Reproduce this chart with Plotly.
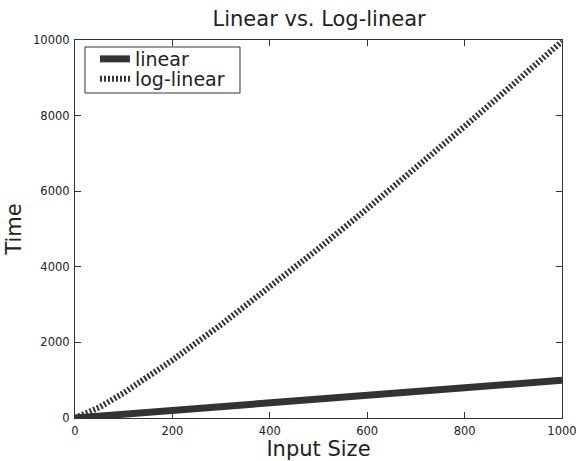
import plotly.graph_objects as go

input_size = [0, 50, 100, 200, 300, 400, 500, 600, 700, 800, 900, 1000]
linear_time = [0, 50, 100, 200, 300, 400, 500, 600, 700, 800, 900, 1000]
loglinear_time = [0, 282, 664, 1529, 2469, 3458, 4483, 5537, 6617, 7715, 8832, 9966]
x_ticks = [0, 200, 400, 600, 800, 1000]
x_tick_labels = ["0", "200", "400", "600", "800", "1000"]
y_ticks = [0, 2000, 4000, 6000, 8000, 10000]
y_tick_labels = ["0", "2000", "4000", "6000", "8000", "10000"]

FONT = "DejaVu Sans"
INK = "#222222"
LINE = "#333333"

fig = go.Figure()
fig.add_trace(go.Scatter(x=input_size, y=linear_time, mode="lines", name="linear",
                         line=dict(color=LINE, width=7), legend="legend"))
fig.add_trace(go.Scatter(x=input_size, y=loglinear_time, mode="lines", name="log-linear",
                         line=dict(color=LINE, width=6, dash="2px,2px"), legend="legend2"))

axis_common = dict(showgrid=False, zeroline=False, showline=True, linecolor=LINE,
                   linewidth=1.2, mirror="ticks", ticks="inside", ticklen=6,
                   tickcolor=LINE, tickfont=dict(family=FONT, size=11.5, color=INK),
                   automargin=False, ticklabeloverflow="allow")

legend_common = dict(xanchor="left", yanchor="middle", bgcolor="rgba(0,0,0,0)",
                     borderwidth=0, font=dict(family=FONT, size=19, color=INK),
                     itemwidth=30)

fig.update_layout(
    width=576, height=461,
    paper_bgcolor="white", plot_bgcolor="white",
    margin=dict(l=75, r=14, t=40, b=43),
    title=dict(text="Linear vs. Log-linear", x=0.554, xanchor="center", y=0.9588, yanchor="middle",
               font=dict(family=FONT, size=21, color=INK)),
    xaxis=dict(range=[0, 1000.001], tickvals=x_ticks, ticktext=x_tick_labels,
               ticklabelstandoff=2,
               title=dict(text="Input Size", font=dict(family=FONT, size=21, color=INK), standoff=2),
               **axis_common),
    yaxis=dict(range=[0, 10000.01], tickvals=y_ticks, ticktext=y_tick_labels,
               ticklabelstandoff=2,
               title=dict(text="Time", font=dict(family=FONT, size=21, color=INK), standoff=5),
               **axis_common),
    legend=dict(x=0.041, y=0.9497, **legend_common),
    legend2=dict(x=0.041, y=0.8968, **legend_common),
    showlegend=True,
    shapes=[dict(type="rect", xref="paper", yref="paper",
                 x0=0.0205, x1=0.3388, y0=0.8598, y1=0.9815,
                 line=dict(color=LINE, width=1), fillcolor="rgba(0,0,0,0)", layer="above")],
)

fig.write_html("out.html", config={"displayModeBar": False},
               post_script="document.body.style.margin='0px';")
